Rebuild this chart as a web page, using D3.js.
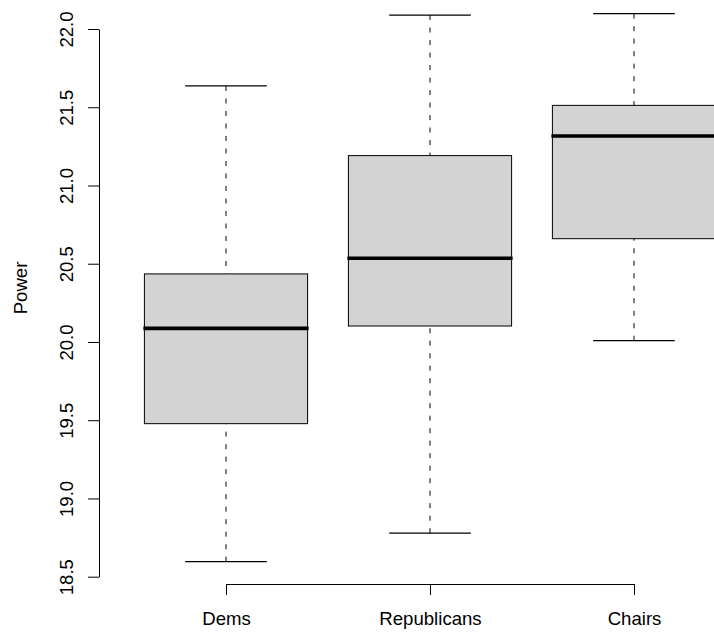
<!DOCTYPE html>
<html>
<head>
<meta charset="utf-8">
<script src="https://cdn.jsdelivr.net/npm/d3@7"></script>
<style>
  html, body { margin: 0; padding: 0; background: #fff; }
  svg { display: block; }
  text { font-family: "Liberation Sans", Arial, Helvetica, sans-serif; fill: #000; }
</style>
</head>
<body>
<svg id="chart" width="714" height="635"></svg>
<script>
// ---- data ----
const categories = ["Dems", "Republicans", "Chairs"];
const lowerWhisker = [18.596, 18.778, 20.008];
const lowerHinge   = [19.478, 20.102, 20.660];
const medians      = [20.087, 20.535, 21.316];
const upperHinge   = [20.435, 21.191, 21.512];
const upperWhisker = [21.636, 22.089, 22.098];
const yTicks = [18.5, 19.0, 19.5, 20.0, 20.5, 21.0, 21.5, 22.0];
const yLabel = "Power";

const rows = categories.map((c, i) => ({
  cat: c, pos: i + 1,
  lw: lowerWhisker[i], q1: lowerHinge[i], med: medians[i],
  q3: upperHinge[i], uw: upperWhisker[i]
}));

// ---- layout ----
const svg = d3.select("#chart");
const fontSize = 18.6;
const axisX = 99;     // left axis position
const axisY = 584;    // bottom axis position

const x = d3.scaleLinear().domain([1, 3]).range([226, 634]);
const y = d3.scaleLinear().domain([18.5, 22.0]).range([576.7, 29]);
const unit = x(2) - x(1);
const boxW = 0.8 * unit;
const capW = 0.4 * unit;

const g = svg.append("g");

// whiskers (dashed)
g.selectAll("line.wlo").data(rows).join("line")
  .attr("x1", d => x(d.pos)).attr("x2", d => x(d.pos))
  .attr("y1", d => y(d.lw)).attr("y2", d => y(d.q1))
  .attr("stroke", "#000").attr("stroke-width", 1)
  .attr("stroke-dasharray", "5,7.5");
g.selectAll("line.whi").data(rows).join("line")
  .attr("x1", d => x(d.pos)).attr("x2", d => x(d.pos))
  .attr("y1", d => y(d.uw)).attr("y2", d => y(d.q3))
  .attr("stroke", "#000").attr("stroke-width", 1)
  .attr("stroke-dasharray", "5,7.5");

// staples
g.selectAll("line.caplo").data(rows).join("line")
  .attr("x1", d => x(d.pos) - capW / 2).attr("x2", d => x(d.pos) + capW / 2)
  .attr("y1", d => y(d.lw)).attr("y2", d => y(d.lw))
  .attr("stroke", "#000").attr("stroke-width", 1.2);
g.selectAll("line.caphi").data(rows).join("line")
  .attr("x1", d => x(d.pos) - capW / 2).attr("x2", d => x(d.pos) + capW / 2)
  .attr("y1", d => y(d.uw)).attr("y2", d => y(d.uw))
  .attr("stroke", "#000").attr("stroke-width", 1.2);

// boxes
g.selectAll("rect.box").data(rows).join("rect")
  .attr("x", d => x(d.pos) - boxW / 2)
  .attr("width", boxW)
  .attr("y", d => y(d.q3))
  .attr("height", d => y(d.q1) - y(d.q3))
  .attr("fill", "#d3d3d3")
  .attr("stroke", "#000").attr("stroke-width", 1);

// medians
g.selectAll("line.med").data(rows).join("line")
  .attr("x1", d => x(d.pos) - boxW / 2 - 1).attr("x2", d => x(d.pos) + boxW / 2 + 1)
  .attr("y1", d => y(d.med)).attr("y2", d => y(d.med))
  .attr("stroke", "#000").attr("stroke-width", 3.6);

// y axis
const yAxis = svg.append("g")
  .attr("transform", `translate(${axisX},0)`)
  .call(d3.axisLeft(y).tickValues(yTicks).tickSize(11).tickSizeOuter(0)
    .tickFormat(d3.format(".1f")));
yAxis.select(".domain").attr("stroke", "#000");
yAxis.selectAll(".tick line").attr("stroke", "#000");
yAxis.selectAll(".tick text")
  .attr("x", null).attr("dy", null)
  .attr("text-anchor", "middle")
  .attr("transform", "translate(-26.5,0) rotate(-90)")
  .style("font-size", fontSize + "px")
  .style("font-family", "'Liberation Sans', Arial, sans-serif")
  .attr("fill", "#000");

// x axis
const xAxis = svg.append("g")
  .attr("transform", `translate(0,${axisY})`)
  .call(d3.axisBottom(x).tickValues([1, 2, 3]).tickSize(11).tickSizeOuter(0)
    .tickFormat(d => categories[d - 1]));
xAxis.select(".domain").attr("stroke", "#000");
xAxis.selectAll(".tick line").attr("stroke", "#000");
xAxis.selectAll(".tick text")
  .attr("y", 41).attr("dy", null)
  .style("font-size", fontSize + "px")
  .style("font-family", "'Liberation Sans', Arial, sans-serif")
  .attr("fill", "#000");

// y label
svg.append("text")
  .attr("transform", `translate(26.5,288) rotate(-90)`)
  .attr("text-anchor", "middle")
  .style("font-size", fontSize + "px")
  .text(yLabel);
</script>
</body>
</html>
